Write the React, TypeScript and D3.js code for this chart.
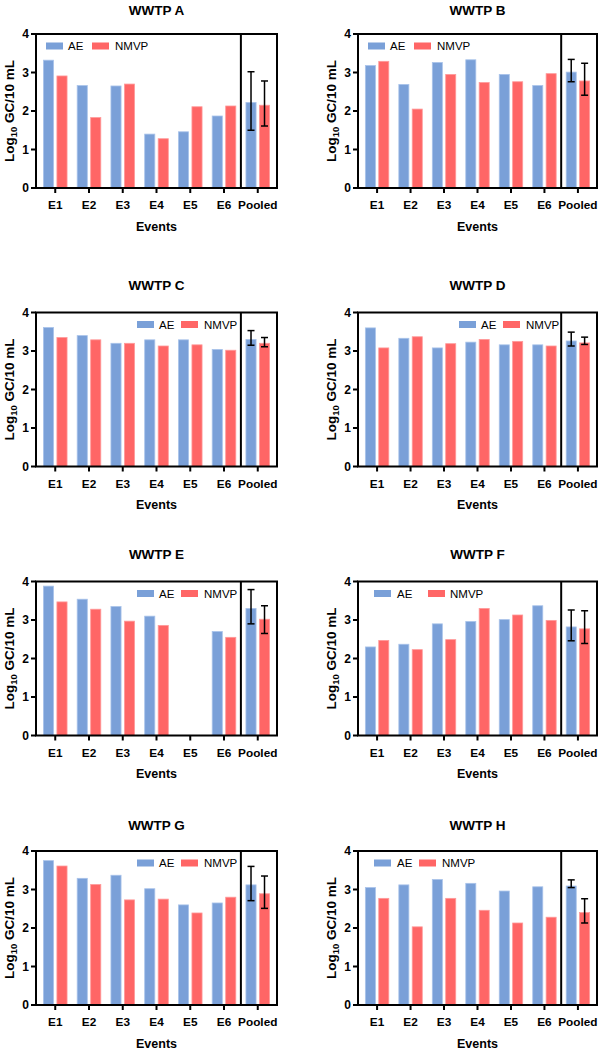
import React from "react";
import * as d3 from "d3";

const events = ["E1", "E2", "E3", "E4", "E5", "E6", "Pooled"];
const series = ["AE", "NMVP"];
const yTicks = [0, 1, 2, 3, 4];

const wwtpA_AE = [3.32, 2.66, 2.65, 1.4, 1.46, 1.87, 2.22];
const wwtpA_NMVP = [2.91, 1.83, 2.7, 1.28, 2.11, 2.13, 2.15];
const wwtpA_AE_err = [1.5, 3.02];
const wwtpA_NMVP_err = [1.61, 2.78];

const wwtpB_AE = [3.18, 2.69, 3.26, 3.33, 2.95, 2.66, 3.01];
const wwtpB_NMVP = [3.29, 2.05, 2.95, 2.74, 2.76, 2.97, 2.78];
const wwtpB_AE_err = [2.76, 3.34];
const wwtpB_NMVP_err = [2.41, 3.24];

const wwtpC_AE = [3.61, 3.4, 3.2, 3.29, 3.29, 3.04, 3.3];
const wwtpC_NMVP = [3.35, 3.29, 3.2, 3.13, 3.16, 3.02, 3.2];
const wwtpC_AE_err = [3.15, 3.53];
const wwtpC_NMVP_err = [3.11, 3.35];

const wwtpD_AE = [3.6, 3.33, 3.08, 3.23, 3.16, 3.16, 3.26];
const wwtpD_NMVP = [3.08, 3.37, 3.19, 3.3, 3.25, 3.13, 3.21];
const wwtpD_AE_err = [3.13, 3.49];
const wwtpD_NMVP_err = [3.17, 3.36];

const wwtpE_AE = [3.88, 3.54, 3.35, 3.1, null, 2.7, 3.3];
const wwtpE_NMVP = [3.47, 3.28, 2.97, 2.86, null, 2.55, 3.02];
const wwtpE_AE_err = [2.9, 3.79];
const wwtpE_NMVP_err = [2.65, 3.37];

const wwtpF_AE = [2.3, 2.37, 2.9, 2.96, 3.01, 3.37, 2.82];
const wwtpF_NMVP = [2.47, 2.23, 2.49, 3.3, 3.13, 2.99, 2.77];
const wwtpF_AE_err = [2.46, 3.26];
const wwtpF_NMVP_err = [2.39, 3.24];

const wwtpG_AE = [3.75, 3.29, 3.37, 3.02, 2.6, 2.65, 3.12];
const wwtpG_NMVP = [3.61, 3.13, 2.73, 2.75, 2.39, 2.8, 2.89];
const wwtpG_AE_err = [2.71, 3.6];
const wwtpG_NMVP_err = [2.51, 3.35];

const wwtpH_AE = [3.05, 3.12, 3.26, 3.16, 2.96, 3.07, 3.09];
const wwtpH_NMVP = [2.77, 2.03, 2.77, 2.46, 2.13, 2.28, 2.4];
const wwtpH_AE_err = [3.05, 3.25];
const wwtpH_NMVP_err = [2.13, 2.76];

const COLORS: Record<string, string> = { AE: "#7aa0d8", NMVP: "#ff6666" };
const STROKES: Record<string, string> = { AE: "#a9c3ea", NMVP: "#ff9a9a" };
const FONT = "'Liberation Sans', Arial, Helvetica, sans-serif";

// layout (positions only)
const cols = [
  { left: 36, right: 277 },
  { left: 358, right: 597 },
];
const rows = [
  { top: 34, bottom: 188, titleY: 10 },
  { top: 312.5, bottom: 466.5, titleY: 285 },
  { top: 581.5, bottom: 735.5, titleY: 554 },
  { top: 851, bottom: 1005, titleY: 825 },
];
// legend offsets relative to frame left: [AE swatch, AE text, NMVP swatch, NMVP text]
const legendLeft = [10, 32, 56, 79];
const legendRight = [101, 123, 145, 168];
const legendF = [16, 39, 70, 92];
const legendH = [16, 39, 61, 84];

const panels = [
  { name: "WWTP A", ae: wwtpA_AE, nm: wwtpA_NMVP, aeErr: wwtpA_AE_err, nmErr: wwtpA_NMVP_err, r: 0, c: 0, leg: legendLeft },
  { name: "WWTP B", ae: wwtpB_AE, nm: wwtpB_NMVP, aeErr: wwtpB_AE_err, nmErr: wwtpB_NMVP_err, r: 0, c: 1, leg: legendLeft },
  { name: "WWTP C", ae: wwtpC_AE, nm: wwtpC_NMVP, aeErr: wwtpC_AE_err, nmErr: wwtpC_NMVP_err, r: 1, c: 0, leg: legendRight },
  { name: "WWTP D", ae: wwtpD_AE, nm: wwtpD_NMVP, aeErr: wwtpD_AE_err, nmErr: wwtpD_NMVP_err, r: 1, c: 1, leg: legendRight },
  { name: "WWTP E", ae: wwtpE_AE, nm: wwtpE_NMVP, aeErr: wwtpE_AE_err, nmErr: wwtpE_NMVP_err, r: 2, c: 0, leg: legendRight },
  { name: "WWTP F", ae: wwtpF_AE, nm: wwtpF_NMVP, aeErr: wwtpF_AE_err, nmErr: wwtpF_NMVP_err, r: 2, c: 1, leg: legendF },
  { name: "WWTP G", ae: wwtpG_AE, nm: wwtpG_NMVP, aeErr: wwtpG_AE_err, nmErr: wwtpG_NMVP_err, r: 3, c: 0, leg: legendRight },
  { name: "WWTP H", ae: wwtpH_AE, nm: wwtpH_NMVP, aeErr: wwtpH_AE_err, nmErr: wwtpH_NMVP_err, r: 3, c: 1, leg: legendH },
];

function Panel({ p }: { p: (typeof panels)[number] }) {
  const { left, right } = cols[p.c];
  const { top, bottom, titleY } = rows[p.r];
  const x = d3.scaleBand<string>().domain(events).range([left, right]).paddingInner(0).paddingOuter(0.07);
  const step = x.step();
  const groupW = step * 0.7;
  const inner = d3.scaleBand<string>().domain(series).range([0, groupW]).paddingInner(0.25).paddingOuter(0);
  const y = d3.scaleLinear().domain([0, 4]).range([bottom, top]);
  const divX = x("Pooled") as number;
  const vals: Record<string, (number | null)[]> = { AE: p.ae, NMVP: p.nm };
  const errs: Record<string, number[]> = { AE: p.aeErr, NMVP: p.nmErr };
  const mid = (left + right) / 2;
  const legY = top + 12;

  return (
    <g>
      <text x={mid} y={titleY + 4.5} textAnchor="middle" fontFamily={FONT} fontWeight="bold" fontSize={13.5}>
        {p.name}
      </text>
      {/* bars */}
      {events.map((ev, i) =>
        series.map((s) => {
          const v = vals[s][i];
          if (v === null || v === undefined) return null;
          const bx = (x(ev) as number) + (step - groupW) / 2 + (inner(s) as number);
          return (
            <rect
              key={ev + s}
              x={bx}
              y={y(v)}
              width={inner.bandwidth()}
              height={y(0) - y(v)}
              fill={COLORS[s]}
              stroke={STROKES[s]}
              strokeWidth={0.8}
            />
          );
        })
      )}
      {/* error bars for pooled */}
      {series.map((s) => {
        const cx = (x("Pooled") as number) + (step - groupW) / 2 + (inner(s) as number) + inner.bandwidth() / 2;
        const [lo, hi] = errs[s];
        return (
          <g key={"err" + s} stroke="#000" strokeWidth={1.5}>
            <line x1={cx} x2={cx} y1={y(lo)} y2={y(hi)} />
            <line x1={cx - 3.5} x2={cx + 3.5} y1={y(lo)} y2={y(lo)} />
            <line x1={cx - 3.5} x2={cx + 3.5} y1={y(hi)} y2={y(hi)} />
          </g>
        );
      })}
      {/* frame */}
      <rect x={left} y={top} width={right - left} height={bottom - top} fill="none" stroke="#000" strokeWidth={2} />
      <line x1={divX} x2={divX} y1={top} y2={bottom} stroke="#000" strokeWidth={2} />
      {/* y ticks */}
      {yTicks.map((t) => (
        <g key={"y" + t}>
          <line x1={left - 5} x2={left} y1={y(t)} y2={y(t)} stroke="#000" strokeWidth={2} />
          <text x={left - 7} y={y(t) + 4.2} textAnchor="end" fontFamily={FONT} fontWeight="bold" fontSize={12}>
            {t}
          </text>
        </g>
      ))}
      {/* x ticks */}
      {events.map((ev) => {
        const cx = (x(ev) as number) + step / 2;
        return (
          <g key={"x" + ev}>
            <line x1={cx} x2={cx} y1={bottom} y2={bottom + 5} stroke="#000" strokeWidth={2} />
            <text x={cx} y={bottom + 21} textAnchor="middle" fontFamily={FONT} fontWeight="bold" fontSize={11.8}>
              {ev}
            </text>
          </g>
        );
      })}
      <text x={mid} y={bottom + 42.5} textAnchor="middle" fontFamily={FONT} fontWeight="bold" fontSize={12.5}>
        Events
      </text>
      {/* y label */}
      <text
        transform={`translate(${left - 22.5},${(top + bottom) / 2}) rotate(-90)`}
        textAnchor="middle"
        fontFamily={FONT}
        fontWeight="bold"
        fontSize={13.5}
      >
        Log
        <tspan fontSize={9.5} dy={3}>
          10
        </tspan>
        <tspan dy={-3}> GC/10 mL</tspan>
      </text>
      {/* legend */}
      {series.map((s, k) => (
        <g key={"leg" + s}>
          <rect x={left + p.leg[k * 2]} y={legY - 3.5} width={17} height={7} fill={COLORS[s]} />
          <text x={left + p.leg[k * 2 + 1]} y={legY + 4} fontFamily={FONT} fontSize={11.5}>
            {s}
          </text>
        </g>
      ))}
    </g>
  );
}

export default function App() {
  return (
    <svg
      width={601}
      height={1050}
      viewBox="0 0 601 1050"
      style={{ position: "absolute", left: 0, top: 0, background: "#fff" }}
    >
      <rect x={0} y={0} width={601} height={1050} fill="#fff" />
      {panels.map((p) => (
        <Panel key={p.name} p={p} />
      ))}
    </svg>
  );
}
